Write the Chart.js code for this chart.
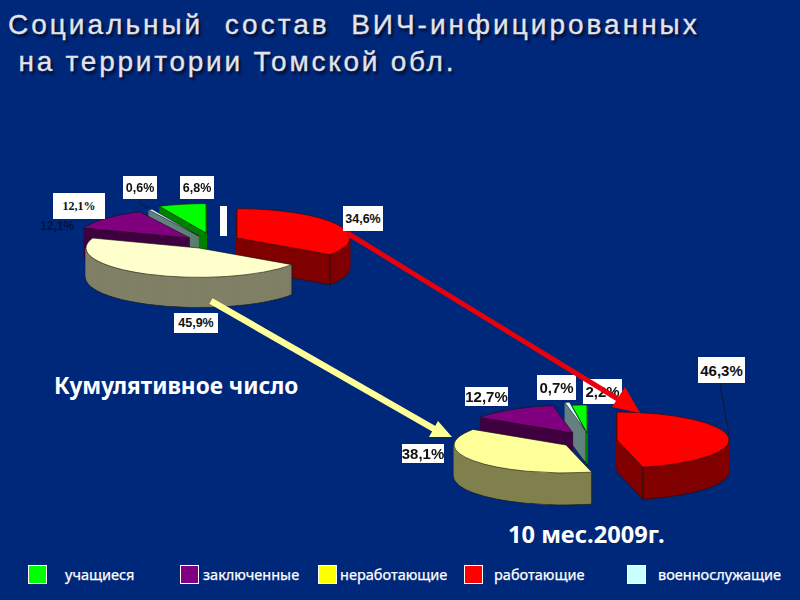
<!DOCTYPE html>
<html lang="ru">
<head>
<meta charset="utf-8">
<title>Социальный состав ВИЧ-инфицированных</title>
<script src="https://cdn.jsdelivr.net/npm/chart.js@4"></script>
<style>
  html, body { margin: 0; padding: 0; }
  body { width: 800px; height: 600px; background: #00287a; position: relative; overflow: hidden; }
  canvas { position: absolute; }
  .title { position: absolute; left: 8px; color: #e4e4e8; font: 28px "Liberation Sans", Arial, sans-serif; letter-spacing: 3px; -webkit-text-stroke: 0.3px #e4e4e8; white-space: pre; text-shadow: 2px 3px 3px #000a28; }
  .caption { position: absolute; color: #fff; font: bold 22.6px "Noto Sans", sans-serif; white-space: pre; }
  .lbl { position: absolute; background: #fff; color: #111; font: bold 12.5px "Liberation Sans", Arial, sans-serif; display: flex; align-items: center; justify-content: center; }
  .lbl.big { font-size: 15px; }
  .lbl.serif { font: bold 12px "Liberation Serif", serif; }
  .ghost { position: absolute; color: #00133f; font: bold 12px "Liberation Sans", Arial, sans-serif; }
  .swatch { position: absolute; top: 565px; width: 17px; height: 17px; border: 1px solid #fff; }
  .legend { position: absolute; top: 565px; color: #fff; font: 14.5px "Noto Sans", sans-serif; -webkit-text-stroke: 0.25px #fff; line-height: 18px; white-space: pre; }
  svg { position: absolute; left: 0; top: 0; }
</style>
</head>
<body>
<div class="title" style="top:9px">Социальный  состав  ВИЧ-инфицированных</div>
<div class="title" style="top:46px;letter-spacing:2.75px"> на территории Томской обл.</div>
<div class="caption" style="left:54px;top:370px">Кумулятивное число</div>
<div class="caption" style="left:508px;top:518px;font-size:23.6px">10 мес.2009г.</div>

<canvas id="cumulative"></canvas>
<canvas id="months2009"></canvas>
<div id="labels"></div>
<div id="legend"></div>

<svg width="800" height="600">
  <rect x="220" y="206" width="7" height="30" fill="#fff"/>
  <polyline points="140,199 140,204 150,208" fill="none" stroke="#111" stroke-width="0.7"/>
  <line x1="720" y1="383" x2="729" y2="436" stroke="#111" stroke-width="0.7"/>
  <!-- red arrow -->
  <line x1="347" y1="233" x2="626" y2="404" stroke="#e8000c" stroke-width="5"/>
  <polygon points="640,413 612,407 625,387" fill="#ff0000"/>
  <!-- yellow arrow -->
  <line x1="211" y1="301" x2="436" y2="430" stroke="#ffff99" stroke-width="6.5"/>
  <polygon points="452,437 429,437 438,421" fill="#ffff99"/>
</svg>

<script>
// data
const categories = ['работающие', 'неработающие', 'заключенные', 'военнослужащие', 'учащиеся'];
const cumulativeValues = [34.6, 45.9, 12.1, 0.6, 6.8];
const months2009Values = [46.3, 38.1, 12.7, 0.7, 2.2];

const legendOrder = ['учащиеся', 'заключенные', 'неработающие', 'работающие', 'военнослужащие'];
const legendColors = ['#00ff00', '#800080', '#ffff00', '#ff0000', '#ccffff'];
const legendSwatchX = [28, 180, 318, 464, 627];
const legendTextX = [65, 203, 340, 494, 658];

const cumulativeColors = ['#ff0000', '#ffffcc', '#800080', '#ccffff', '#00ff00'];
const cumulativeWalls = ['#800000', '#808066', '#400040', '#668080', '#008000'];
const months2009Colors = ['#ff0000', '#ffff99', '#800080', '#ccffff', '#00ff00'];
const months2009Walls = ['#800000', '#80804d', '#400040', '#668080', '#008000'];

// slices are pushed apart by hand, the way they sit in the slide
const cumulativeShift = [[27, -12], [-11, -2], [-20, -12], [-11, -14], [-4, -17]];
const months2009Shift = [[17, -5], [-34, 0], [-27, -12], [-15, -15], [-13, -12]];

// back slices first
const paintOrder = [4, 3, 2, 0, 1];

function percent(v) {
  return v.toFixed(1).replace('.', ',') + '%';
}

// draws the arcs of the pie squashed and extruded so that it looks 3D
function tiltPlugin(shift, walls, squash, depth) {
  return {
    id: 'tilt',
    beforeDatasetsDraw(chart) {
      const ctx = chart.ctx;
      const arcs = chart.getDatasetMeta(0).data;

      const drawArc = (arc, dx, dy) => {
        ctx.save();
        ctx.translate(arc.x + dx, arc.y + dy);
        ctx.scale(1, squash);
        ctx.translate(-arc.x, -arc.y);
        arc.draw(ctx);
        ctx.restore();
      };

      paintOrder.forEach(i => {
        const arc = arcs[i];
        const [dx, dy] = shift[i];
        const top = arc.options;

        for (let d = depth; d >= 1; d--) {
          arc.options = Object.assign({}, top, {
            backgroundColor: walls[i],
            borderColor: d === depth ? '#111111' : walls[i]
          });
          drawArc(arc, dx, dy + d);
        }
        arc.options = top;

        // corner lines of the wall, only on the side facing us
        ctx.save();
        ctx.strokeStyle = '#111111';
        ctx.lineWidth = 0.8;
        [arc.startAngle, arc.endAngle].forEach(a => {
          if (Math.sin(a) <= 0) return;
          const x = arc.x + dx + arc.outerRadius * Math.cos(a);
          const y = arc.y + dy + arc.outerRadius * Math.sin(a) * squash;
          ctx.beginPath();
          ctx.moveTo(x, y);
          ctx.lineTo(x, y + depth);
          ctx.stroke();
        });
        ctx.restore();

        drawArc(arc, dx, dy);
      });
      return false;
    }
  };
}

function makePie(id, box, values, colors, radius, plugin) {
  const canvas = document.getElementById(id);
  canvas.style.left = box[0] + 'px';
  canvas.style.top = box[1] + 'px';
  canvas.width = box[2];
  canvas.height = box[3];
  return new Chart(canvas, {
    type: 'pie',
    data: {
      labels: categories,
      datasets: [{ data: values, backgroundColor: colors, borderColor: '#111111', borderWidth: 1 }]
    },
    options: {
      responsive: false,
      animation: false,
      radius: radius,
      plugins: { legend: { display: false }, tooltip: { enabled: false } }
    },
    plugins: [plugin]
  });
}

makePie('cumulative', [40, 160, 340, 180], cumulativeValues, cumulativeColors, 113,
  tiltPlugin(cumulativeShift, cumulativeWalls, 0.26, 30));
makePie('months2009', [440, 380, 320, 130], months2009Values, months2009Colors, 112,
  tiltPlugin(months2009Shift, months2009Walls, 0.25, 32));

// value boxes
const labelsEl = document.getElementById('labels');

function addLabel(text, box, cls) {
  const div = document.createElement('div');
  div.className = 'lbl ' + (cls || '');
  div.textContent = text;
  div.style.left = box[0] + 'px';
  div.style.top = box[1] + 'px';
  div.style.width = box[2] + 'px';
  div.style.height = box[3] + 'px';
  labelsEl.appendChild(div);
}

const cumulativeBoxes = [[343, 206, 40, 25], [174, 313, 44, 20], [53, 193, 52, 26], [123, 176, 34, 23], [180, 176, 34, 23]];
const months2009Boxes = [[698, 357, 47, 26], [402, 444, 42, 19], [465, 387, 43, 19], [537, 375, 39, 25], [583, 379, 39, 25]];

cumulativeValues.forEach((v, i) => addLabel(percent(v), cumulativeBoxes[i], i === 2 ? 'serif' : ''));
months2009Values.forEach((v, i) => addLabel(percent(v), months2009Boxes[i], 'big'));

// the old label that stayed behind the white box
const ghost = document.createElement('div');
ghost.className = 'ghost';
ghost.textContent = percent(cumulativeValues[2]);
ghost.style.left = '40px';
ghost.style.top = '219px';
labelsEl.appendChild(ghost);

// legend
const legendEl = document.getElementById('legend');
legendOrder.forEach((name, i) => {
  const sw = document.createElement('div');
  sw.className = 'swatch';
  sw.style.left = legendSwatchX[i] + 'px';
  sw.style.background = legendColors[i];
  legendEl.appendChild(sw);

  const txt = document.createElement('div');
  txt.className = 'legend';
  txt.style.left = legendTextX[i] + 'px';
  txt.textContent = name;
  legendEl.appendChild(txt);
});
</script>
</body>
</html>
